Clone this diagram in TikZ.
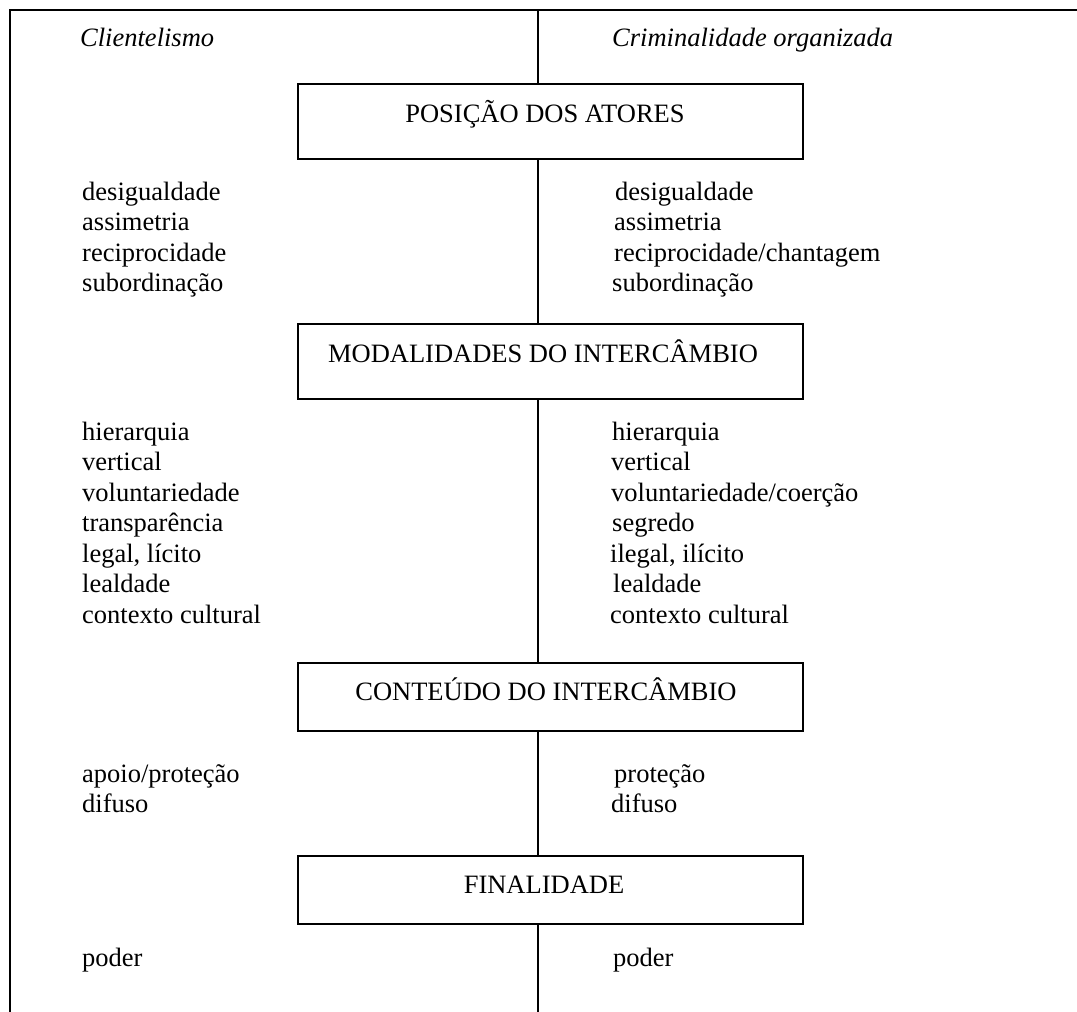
\documentclass[tikz,border=0pt]{standalone}
\usepackage{fontspec}
\setmainfont{Liberation Serif}
\begin{document}
\begin{tikzpicture}[x=1pt,y=-1pt,
  frame/.style={line width=2pt,black},
  axis/.style={line width=2pt,black},
  stagebox/.style={draw,line width=1.5pt,rectangle,minimum width=505pt,inner sep=0pt},
  stagetxt/.style={anchor=base,inner sep=0pt,font=\fontsize{26.5}{30}\selectfont},
  item/.style={anchor=base west,inner sep=0pt,font=\fontsize{26.5}{30}\selectfont},
  head/.style={anchor=base west,inner sep=0pt,font=\fontsize{26.5}{30}\selectfont\itshape}]
\useasboundingbox (0,0) rectangle (1077,1012);

% outer frame: top rule and left rule
\coordinate (fl) at (10,10);
\coordinate (fr) at (1077,10);
\coordinate (fb) at (10,1012);
\draw[frame] (fr) -- (fl) -- (fb);

% column headings
\node[head] (hl) at (80,46) {Clientelismo};
\node[head] (hr) at (612,46) {Criminalidade organizada};

% stage boxes
\node[stagebox,minimum height=75pt] (b1) at (550.5,121.5) {};
\node[stagebox,minimum height=75pt] (b2) at (550.5,361.5) {};
\node[stagebox,minimum height=68pt] (b3) at (550.5,697) {};
\node[stagebox,minimum height=68pt] (b4) at (550.5,890) {};
\node[stagetxt] (t1) at (545,122) {POSIÇÃO DOS ATORES};
\node[stagetxt] (t2) at (543,362) {MODALIDADES DO INTERCÂMBIO};
\node[stagetxt] (t3) at (546,700) {CONTEÚDO DO INTERCÂMBIO};
\node[stagetxt] (t4) at (544,893) {FINALIDADE};

% central dividing axis, broken by the boxes
\coordinate (ax) at (538,10);
\coordinate (ay) at (538,1012);
\draw[axis] (ax) -- (ax |- b1.north);
\draw[axis] (ax |- b1.south) -- (ax |- b2.north);
\draw[axis] (ax |- b2.south) -- (ax |- b3.north);
\draw[axis] (ax |- b3.south) -- (ax |- b4.north);
\draw[axis] (ax |- b4.south) -- (ay);

% position of the actors
\node[item] (l11) at (82,200) {desigualdade};
\node[item] (l12) at (82,230.5) {assimetria};
\node[item] (l13) at (82,261) {reciprocidade};
\node[item] (l14) at (82,291.5) {subordinação};
\node[item] (r11) at (615,200) {desigualdade};
\node[item] (r12) at (614,230.5) {assimetria};
\node[item] (r13) at (614,261) {reciprocidade/chantagem};
\node[item] (r14) at (612,291.5) {subordinação};

% modalities of the exchange
\node[item] (l21) at (82,440) {hierarquia};
\node[item] (l22) at (82,470.5) {vertical};
\node[item] (l23) at (82,501) {voluntariedade};
\node[item] (l24) at (82,531.5) {transparência};
\node[item] (l25) at (82,562) {legal, lícito};
\node[item] (l26) at (82,592.5) {lealdade};
\node[item] (l27) at (82,623) {contexto cultural};
\node[item] (r21) at (612,440) {hierarquia};
\node[item] (r22) at (611,470.5) {vertical};
\node[item] (r23) at (611,501) {voluntariedade/coerção};
\node[item] (r24) at (612,531.5) {segredo};
\node[item] (r25) at (610,562) {ilegal, ilícito};
\node[item] (r26) at (613,592.5) {lealdade};
\node[item] (r27) at (610,623) {contexto cultural};

% content of the exchange
\node[item] (l31) at (82,782) {apoio/proteção};
\node[item] (l32) at (82,812.5) {difuso};
\node[item] (r31) at (614,782) {proteção};
\node[item] (r32) at (611,812.5) {difuso};

% purpose
\node[item] (l41) at (82,966) {poder};
\node[item] (r41) at (613,966) {poder};
\end{tikzpicture}
\end{document}
